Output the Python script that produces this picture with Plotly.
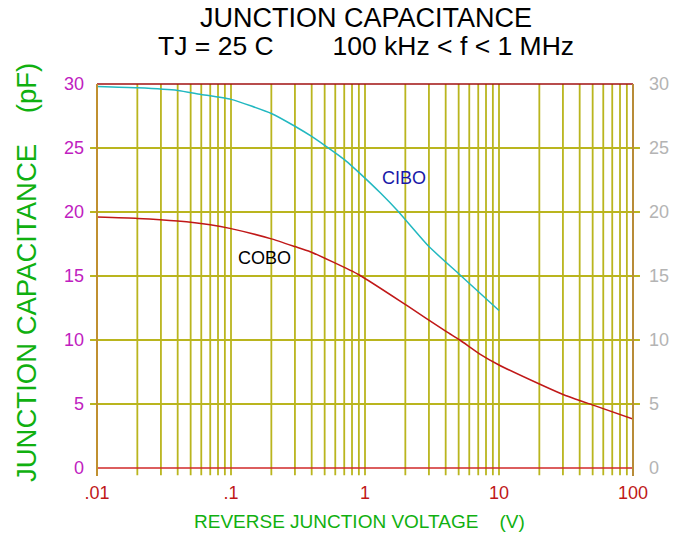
import plotly.graph_objects as go

# ---- data ----
cibo_v = [0.01, 0.02, 0.04, 0.0587, 0.1, 0.2, 0.3, 0.4, 0.5, 0.72, 0.92, 1.3, 1.75, 3.0, 5.1, 10]
cibo_c = [29.8, 29.7, 29.5, 29.2, 28.8, 27.7, 26.7, 25.9, 25.2, 24.0, 23.0, 21.5, 20.1, 17.3, 15.1, 12.3]

cobo_v = [0.01, 0.02, 0.04, 0.07, 0.1, 0.2, 0.3, 0.39, 0.9, 2.05, 4.05, 5.1, 7.2, 10, 20.6, 30.7, 51.7, 100]
cobo_c = [19.6, 19.5, 19.3, 19.0, 18.7, 17.9, 17.3, 16.9, 15.1, 12.7, 10.65, 10.0, 8.9, 8.05, 6.5, 5.7, 4.87, 3.83]

x_tickvals = [0.01, 0.1, 1, 10, 100]
x_ticktext = [".01", ".1", "1", "10", "100"]
y_tickvals = [0, 5, 10, 15, 20, 25, 30]
grid_x = [m * d for d in [0.01, 0.1, 1, 10] for m in range(2, 10)] + [0.1, 1, 10]
grid_y = [5, 10, 15, 20, 25]

FONT = "Liberation Sans, Arial, sans-serif"
GRID = "#bab51e"

fig = go.Figure()
fig.add_trace(go.Scatter(x=cibo_v, y=cibo_c, mode="lines",
                         line=dict(color="#22b8c0", width=1.5, shape="spline", smoothing=0.5),
                         showlegend=False, hoverinfo="skip"))
fig.add_trace(go.Scatter(x=cobo_v, y=cobo_c, mode="lines",
                         line=dict(color="#c01818", width=1.5, shape="spline", smoothing=0.5),
                         showlegend=False, hoverinfo="skip"))
# invisible trace for right axis
fig.add_trace(go.Scatter(x=[0.01], y=[0], yaxis="y2", mode="markers", marker=dict(opacity=0),
                         showlegend=False, hoverinfo="skip"))

shapes = []
for gx in grid_x:
    shapes.append(dict(type="line", xref="x", yref="paper", x0=gx, x1=gx, y0=-0.019, y1=1,
                       line=dict(color=GRID, width=1.8), layer="below"))
for gy in grid_y:
    shapes.append(dict(type="line", xref="paper", yref="y", x0=-0.013, x1=1.013, y0=gy, y1=gy,
                       line=dict(color=GRID, width=1.8), layer="below"))
# borders
shapes.append(dict(type="line", xref="paper", yref="paper", x0=0, x1=1, y0=1, y1=1,
                   line=dict(color="#a01010", width=1.5)))
shapes.append(dict(type="line", xref="paper", yref="paper", x0=0, x1=1, y0=0, y1=0,
                   line=dict(color="#d02828", width=1.5)))
shapes.append(dict(type="line", xref="paper", yref="paper", x0=0, x1=0, y0=-0.021, y1=1,
                   line=dict(color="#c09030", width=2)))
shapes.append(dict(type="line", xref="paper", yref="paper", x0=1, x1=1, y0=-0.021, y1=1,
                   line=dict(color="#b88c38", width=2)))

annotations = [
    dict(text="JUNCTION CAPACITANCE", xref="paper", yref="paper", x=(366 - 97) / 536,
         y=(468 - 18) / 384, showarrow=False,
         font=dict(family=FONT, size=27, color="#000000"), yanchor="middle"),
    dict(text="TJ = 25 C" + "\u00a0" * 8 + "100 kHz < f < 1 MHz", xref="paper", yref="paper",
         x=(366 - 97) / 536, y=(468 - 46) / 384, showarrow=False,
         font=dict(family=FONT, size=26.5, color="#000000"), yanchor="middle"),
    dict(text="JUNCTION CAPACITANCE" + "\u00a0" * 4 + "(pF)", xref="paper", yref="paper",
         x=(26 - 97) / 536, y=(468 - 273) / 384, textangle=-90, showarrow=False,
         font=dict(family=FONT, size=27.5, color="#10b010"), xanchor="center", yanchor="middle"),
    dict(text="REVERSE JUNCTION VOLTAGE" + "\u00a0" * 4 + "(V)", xref="paper", yref="paper",
         x=(359 - 97) / 536, y=(468 - 521) / 384, showarrow=False,
         font=dict(family=FONT, size=19, color="#10b010"), yanchor="middle"),
    dict(text="CIBO", xref="paper", yref="paper", x=(380 - 97) / 536, y=(468 - 178) / 384,
         xanchor="left", yanchor="middle", showarrow=False,
         font=dict(family=FONT, size=18, color="#1818a8")),
    dict(text="COBO", xref="paper", yref="paper", x=(236 - 97) / 536, y=(468 - 258) / 384,
         xanchor="left", yanchor="middle", showarrow=False,
         font=dict(family=FONT, size=18, color="#000000")),
]

fig.update_layout(
    width=674, height=535,
    margin=dict(l=97, r=41, t=84, b=67, autoexpand=False),
    paper_bgcolor="white", plot_bgcolor="white",
    shapes=shapes, annotations=annotations,
    xaxis=dict(type="log", range=[-2, 2], tickvals=x_tickvals, ticktext=x_ticktext,
               showgrid=False, zeroline=False, showline=False, ticks="", automargin=False,
               ticklabelstandoff=12,
               tickfont=dict(family=FONT, size=18, color="#c01818")),
    yaxis=dict(range=[0, 30], tickvals=y_tickvals, showgrid=False, zeroline=False,
               showline=False, ticks="", ticklabelstandoff=12, automargin=False,
               tickfont=dict(family=FONT, size=18, color="#c020c0")),
    yaxis2=dict(range=[0, 30], tickvals=y_tickvals, overlaying="y", side="right",
                showgrid=False, zeroline=False, showline=False, ticks="", ticklabelstandoff=15,
                automargin=False,
                tickfont=dict(family=FONT, size=18, color="#b4b4b4")),
)

fig.write_html("out.html", config={"displayModeBar": False},
               post_script="document.body.style.margin='0';document.body.style.overflow='hidden';")
